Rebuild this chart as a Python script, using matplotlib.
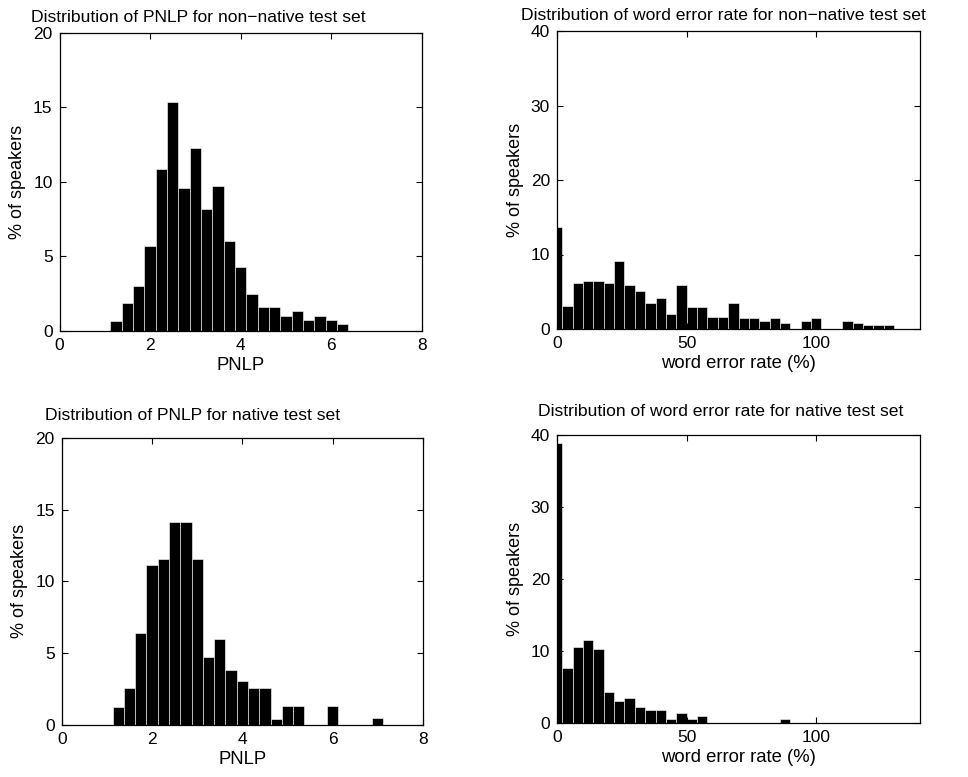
import matplotlib
matplotlib.use("Agg")
import matplotlib.pyplot as plt

plt.rcParams['font.family'] = ['Liberation Sans', 'DejaVu Sans']

W, H = 968, 777

# PNLP histogram bins (bin width 0.25)
pnlp_nonnative_centers = [1.25, 1.5, 1.75, 2.0, 2.25, 2.5, 2.75, 3.0, 3.25, 3.5, 3.75,
                          4.0, 4.25, 4.5, 4.75, 5.0, 5.25, 5.5, 5.75, 6.0, 6.25]
pnlp_nonnative = [0.67, 1.86, 3.0, 5.7, 10.85, 15.4, 9.6, 12.3, 8.2, 9.7, 6.06,
                  4.3, 2.5, 1.6, 1.6, 0.99, 1.32, 0.72, 0.99, 0.72, 0.45]

pnlp_native_centers = [1.25, 1.5, 1.75, 2.0, 2.25, 2.5, 2.75, 3.0, 3.25, 3.5, 3.75, 4.0,
                       4.25, 4.5, 4.75, 5.0, 5.25, 5.5, 5.75, 6.0, 6.25, 6.5, 6.75, 7.0]
pnlp_native = [1.27, 2.59, 6.39, 11.15, 11.57, 14.1, 14.1, 11.57, 4.72, 6.0, 3.86, 3.03,
               2.59, 2.59, 0.45, 1.31, 1.31, 0, 0, 1.31, 0, 0, 0, 0.5]

# word error rate histogram bins (bin width 4)
wer_nonnative_centers = [0, 4, 8, 12, 16, 20, 24, 28, 32, 36, 40, 44, 48, 52, 56, 60, 64,
                         68, 72, 76, 80, 84, 88, 92, 96, 100, 104, 108, 112, 116, 120, 124, 128]
wer_nonnative = [13.7, 3.15, 6.2, 6.5, 6.5, 6.2, 9.1, 5.9, 5.05, 3.5, 4.1, 2.0, 5.97, 2.9,
                 2.9, 1.67, 1.67, 3.5, 1.44, 1.44, 1.1, 1.44, 0.83, 0, 1.1, 1.44, 0, 0,
                 1.1, 0.83, 0.55, 0.55, 0.55]

wer_native_centers = [0, 4, 8, 12, 16, 20, 24, 28, 32, 36, 40, 44, 48, 52, 56, 60, 64,
                      68, 72, 76, 80, 84, 88]
wer_native = [38.9, 7.56, 10.57, 11.5, 10.25, 4.2, 3.0, 3.5, 2.2, 1.76, 1.76, 0.46,
              1.4, 0.5, 0.93, 0, 0, 0, 0, 0, 0, 0, 0.5]

pnlp_ticks = [0, 2, 4, 6, 8]
pnlp_yticks = [0, 5, 10, 15, 20]
wer_ticks = [0, 50, 100]
wer_yticks = [0, 10, 20, 30, 40]


def px_rect(x0, y0, x1, y1):
    # pixel box (top-left origin) -> figure fraction rect
    return [x0 / W, 1 - y1 / H, (x1 - x0) / W, (y1 - y0) / H]


fig = plt.figure(figsize=(W / 100, H / 100), dpi=100)

panels = [
    (px_rect(59.5, 33, 422, 331), pnlp_nonnative_centers, pnlp_nonnative, 0.25,
     (0, 8), pnlp_ticks, (0, 20), pnlp_yticks, 'PNLP',
     'Distribution of PNLP for non\u2212native test set', (31, 18)),
    (px_rect(557, 31, 920, 329), wer_nonnative_centers, wer_nonnative, 4,
     (0, 140), wer_ticks, (0, 40), wer_yticks, 'word error rate (%)',
     'Distribution of word error rate for non\u2212native test set', (521, 16)),
    (px_rect(61.7, 437.7, 423, 725), pnlp_native_centers, pnlp_native, 0.25,
     (0, 8), pnlp_ticks, (0, 20), pnlp_yticks, 'PNLP',
     'Distribution of PNLP for native test set', (45, 415)),
    (px_rect(557, 435, 920, 722.7), wer_native_centers, wer_native, 4,
     (0, 140), wer_ticks, (0, 40), wer_yticks, 'word error rate (%)',
     'Distribution of word error rate for native test set', (538, 412)),
]

for rect, centers, vals, width, xlim, xticks, ylim, yticks, xlabel, title, tpos in panels:
    ax = fig.add_axes(rect)
    ax.bar(centers, vals, width=width, color='black', edgecolor='white', linewidth=0.4)
    ax.set_xlim(*xlim)
    ax.set_ylim(*ylim)
    ax.set_xticks(xticks)
    ax.set_yticks(yticks)
    ax.tick_params(direction='in', top=True, right=True, length=4, width=0.8,
                   labelsize=12.5)
    ax.tick_params(axis='x', pad=5)
    ax.tick_params(axis='y', pad=5)
    for lab in ax.get_yticklabels():
        lab.set_verticalalignment('center_baseline')
    for s in ax.spines.values():
        s.set_linewidth(0.9)
    ax.set_xlabel(xlabel, fontsize=13.3, labelpad=3)
    ax.set_ylabel('% of speakers', fontsize=13, labelpad=5)
    fig.text(tpos[0] / W, 1 - tpos[1] / H, title, fontsize=12.6,
             ha='left', va='center')

fig.savefig('out.png', dpi=100, facecolor='white')
